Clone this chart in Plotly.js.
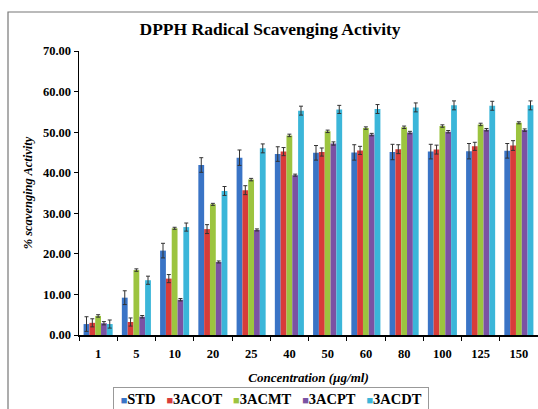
<!DOCTYPE html>
<html><head><meta charset="utf-8">
<script src="https://cdn.plot.ly/plotly-3.0.1.min.js"></script>
<style>html,body{margin:0;padding:0;background:#fff}#chart{width:538px;height:409px}</style>
</head><body><div id="chart"></div>
<script>
const categories = ["1","5","10","20","25","40","50","60","80","100","125","150"];
const seriesNames = ["STD","3ACOT","3ACMT","3ACPT","3ACDT"];
const STD   = [2.7, 9.2, 20.8, 41.9, 43.7, 44.6, 44.9, 45.0, 45.1, 45.2, 45.3, 45.4];
const ACOT  = [3.0, 3.2, 13.9, 26.1, 35.7, 45.2, 45.1, 45.5, 45.8, 45.7, 46.5, 46.7];
const ACMT  = [4.7, 16.0, 26.3, 32.2, 38.3, 49.2, 50.2, 51.0, 51.2, 51.5, 51.9, 52.3];
const ACPT  = [2.9, 4.5, 8.7, 18.0, 25.9, 39.4, 47.2, 49.4, 49.9, 50.1, 50.6, 50.5];
const ACDT  = [2.7, 13.5, 26.6, 35.5, 46.0, 55.3, 55.6, 55.7, 56.1, 56.6, 56.5, 56.6];
const errSTD  = [1.8, 1.7, 1.8, 1.8, 1.9, 1.8, 1.8, 1.9, 1.9, 1.8, 1.9, 1.8];
const errACOT = [1.0, 1.0, 1.0, 1.1, 1.1, 1.0, 1.0, 1.0, 1.1, 1.1, 1.0, 1.2];
const errACMT = [0.3, 0.3, 0.25, 0.25, 0.3, 0.3, 0.3, 0.3, 0.3, 0.3, 0.3, 0.25];
const errACPT = [0.4, 0.3, 0.3, 0.25, 0.25, 0.25, 0.4, 0.3, 0.3, 0.3, 0.3, 0.3];
const errACDT = [1.0, 1.0, 1.0, 1.1, 1.1, 1.1, 1.0, 1.1, 1.1, 1.1, 1.1, 1.1];
const colors = ["#3a74c6", "#d83c3a", "#9cc43f", "#7b52a3", "#3bb6d9"];

const values = [STD, ACOT, ACMT, ACPT, ACDT];
const errors = [errSTD, errACOT, errACMT, errACPT, errACDT];
const serif = "Liberation Serif";

const traces = seriesNames.map((n, i) => ({
  type: "bar", name: n, x: categories, y: values[i],
  marker: {color: colors[i], line: {width: 0}},
  error_y: {type: "data", array: errors[i], visible: true, color: "#333", thickness: 1, width: 2}
}));

// legend drawn as one annotation built from the series names and colours
const legendText = '&nbsp;' + seriesNames.map((n, i) =>
  '<span style="color:' + colors[i] + ';font-size:11px">■</span>' + n).join('&nbsp;&nbsp;&nbsp;') + '&nbsp;';

const L = 79, W = 459, T = 51, H = 284;
const layout = {
  width: 538, height: 409,
  margin: {l: L, r: 538 - L - W, t: T, b: 409 - T - H},
  paper_bgcolor: "#fff", plot_bgcolor: "#fff",
  barmode: "group", bargap: 0.24, bargroupgap: 0,
  showlegend: false,
  title: {text: "DPPH Radical Scavenging Activity", x: 0.502, xref: "container", y: 0.93, yref: "container", yanchor: "middle",
          font: {family: serif, size: 17.5, color: "#000", weight: "bold"}},
  xaxis: {type: "category", showline: true, linecolor: "#000", linewidth: 1.5, ticks: "outside", tickson: "boundaries",
          ticklen: 4, tickcolor: "#000", ticklabelstandoff: 6,
          tickfont: {family: serif, size: 12.5, color: "#000", weight: "bold"},
          showgrid: false, zeroline: false, automargin: false,
          title: {text: "Concentration (µg/ml)", standoff: 13, font: {family: serif, size: 13, color: "#000", weight: "bold", style: "italic"}}},
  yaxis: {range: [0, 70], dtick: 10, tickformat: ".2f", showline: true, linecolor: "#000", linewidth: 1.5,
          ticks: "outside", ticklen: 4, tickcolor: "#000", showgrid: false, zeroline: false, automargin: false,
          tickfont: {family: serif, size: 12.5, color: "#000", weight: "bold"},
          title: {text: "% scavenging Activity", standoff: 7, font: {family: serif, size: 12.5, color: "#000", weight: "bold", style: "italic"}}},
  annotations: [{text: legendText, xref: "paper", yref: "paper", x: (271 - L) / W, y: (T + H - 399) / H,
                 xanchor: "center", yanchor: "middle", showarrow: false,
                 font: {family: serif, size: 14.5, color: "#000", weight: "bold"},
                 bordercolor: "#999", borderwidth: 1, borderpad: 3, bgcolor: "#fff"}],
  shapes: [{type: "rect", xref: "paper", yref: "paper", x0: (8 - L) / W, x1: 1.02, y0: -0.4, y1: (T + H - 12) / H,
            line: {color: "#777", width: 1.2}, fillcolor: "rgba(0,0,0,0)", layer: "below"}]
};
Plotly.newPlot("chart", traces, layout, {displayModeBar: false, staticPlot: true});
</script></body></html>
